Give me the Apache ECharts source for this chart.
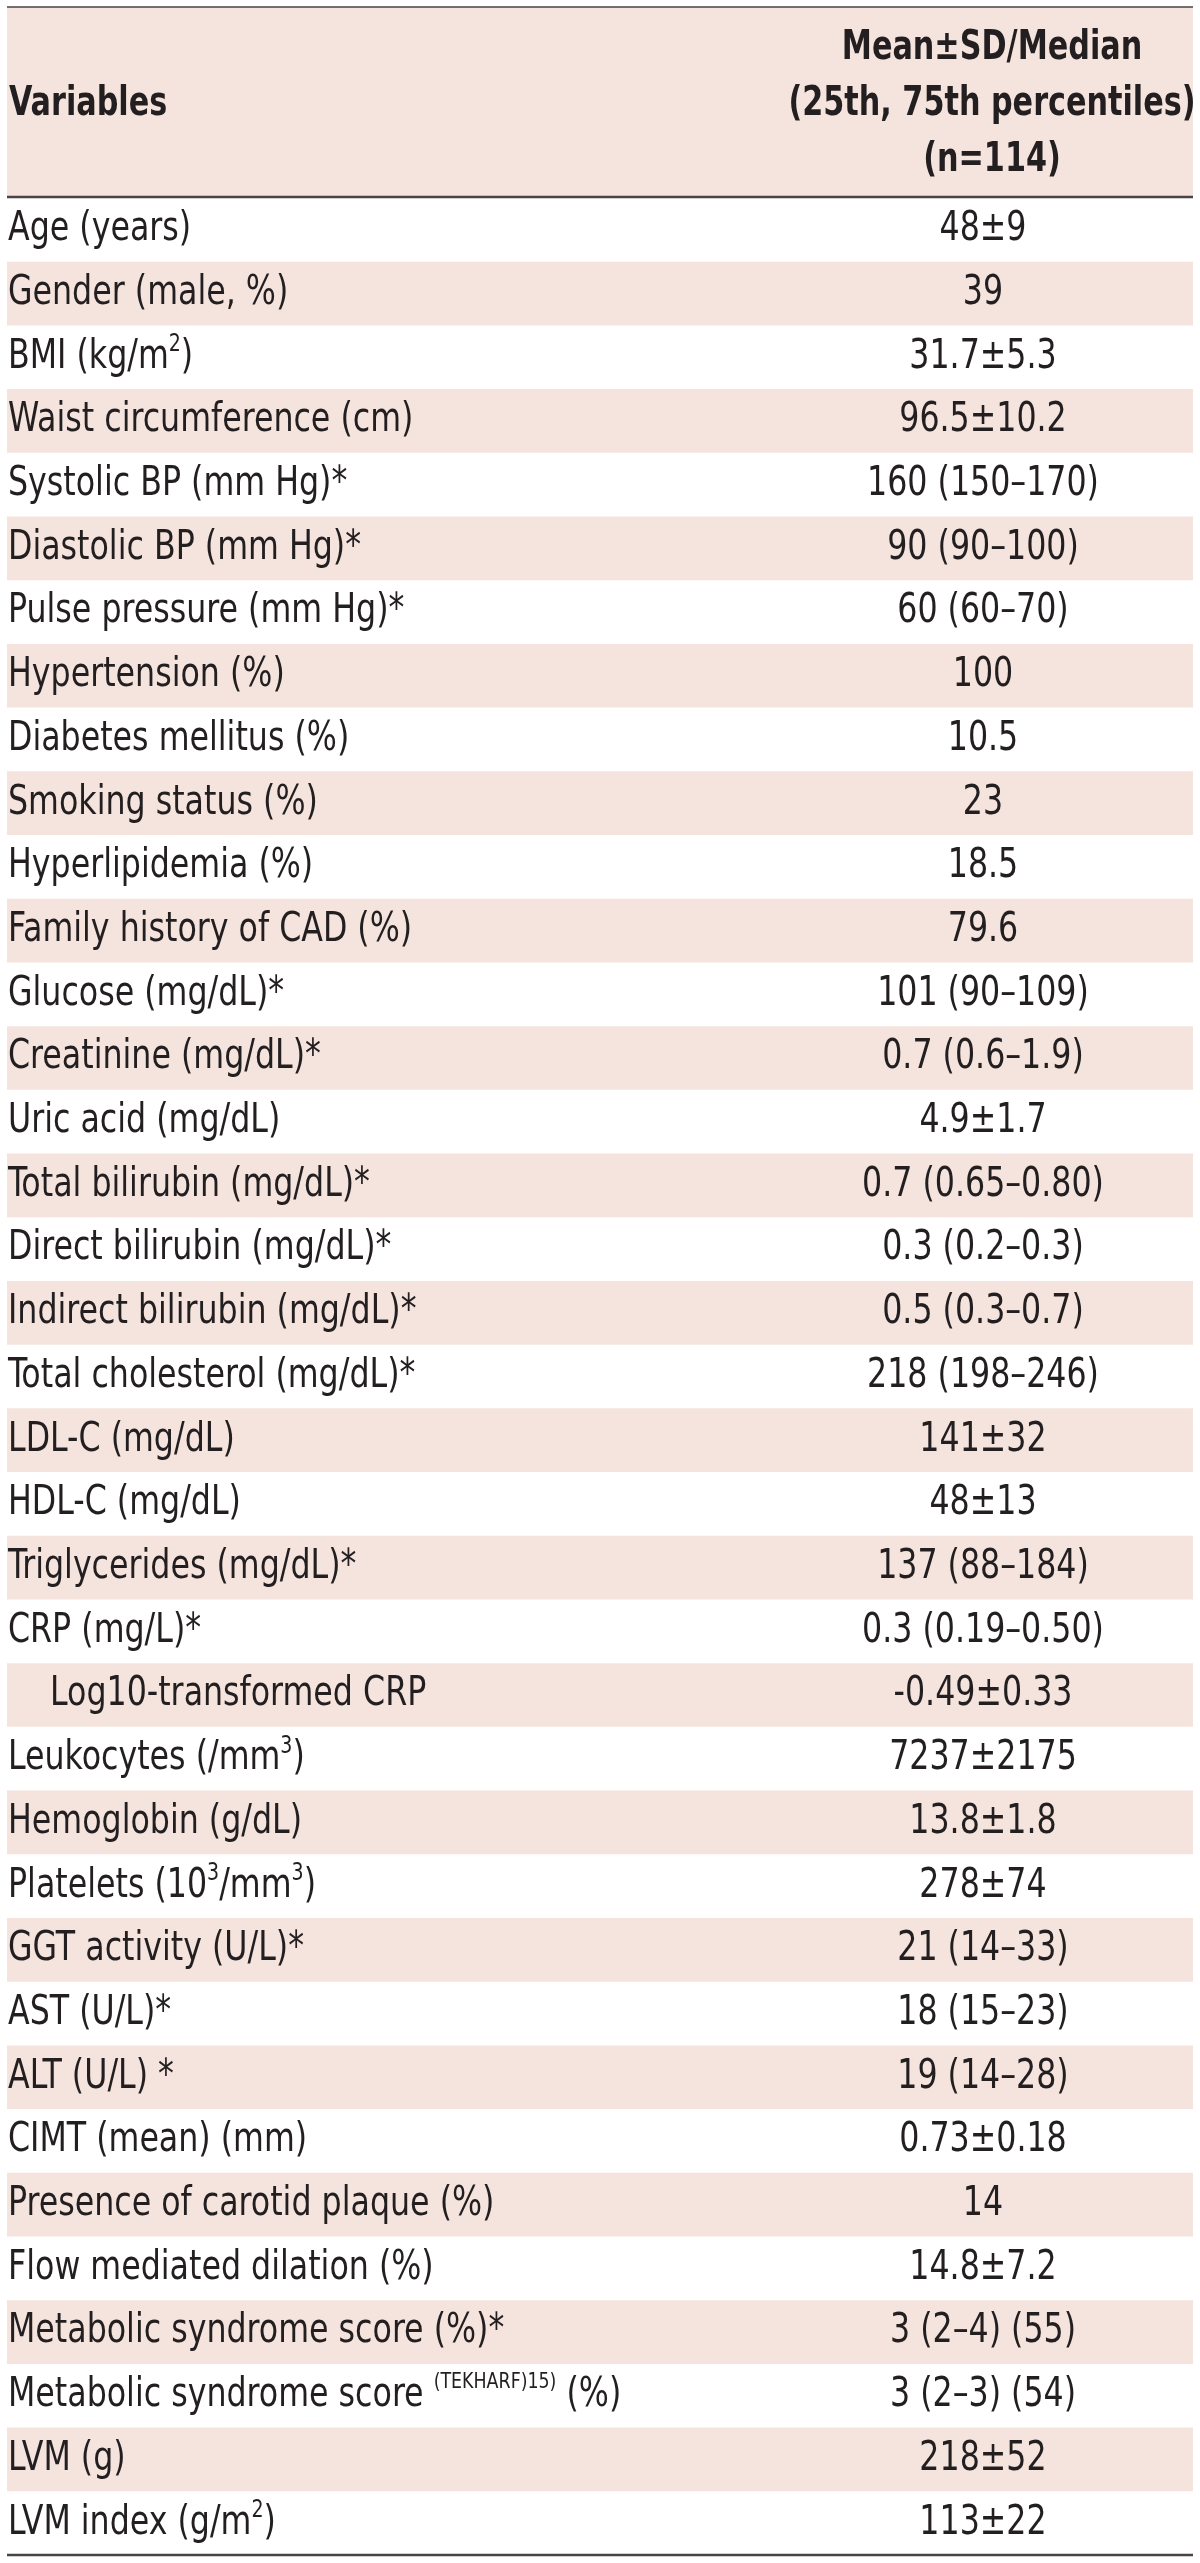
<!DOCTYPE html>
<html>
<head>
<meta charset="utf-8">
<script src="https://cdn.jsdelivr.net/npm/echarts@6.0.0/dist/echarts.min.js"></script>
<style>
  html, body { margin: 0; padding: 0; background: #ffffff; }
  #chart { width: 1200px; height: 2563px; }
</style>
</head>
<body>
<div id="chart"></div>
<script>
// ---------- data ----------
const headerLeft = 'Variables';
const headerRight = ['Mean±SD/Median', '(25th, 75th percentiles)', '(n=114)'];

const variables = [
  'Age (years)',
  'Gender (male, %)',
  'BMI (kg/m{s|2})',
  'Waist circumference (cm)',
  'Systolic BP (mm Hg)*',
  'Diastolic BP (mm Hg)*',
  'Pulse pressure (mm Hg)*',
  'Hypertension (%)',
  'Diabetes mellitus (%)',
  'Smoking status (%)',
  'Hyperlipidemia (%)',
  'Family history of CAD (%)',
  'Glucose (mg/dL)*',
  'Creatinine (mg/dL)*',
  'Uric acid (mg/dL)',
  'Total bilirubin (mg/dL)*',
  'Direct bilirubin (mg/dL)*',
  'Indirect bilirubin (mg/dL)*',
  'Total cholesterol (mg/dL)*',
  'LDL-C (mg/dL)',
  'HDL-C (mg/dL)',
  'Triglycerides (mg/dL)*',
  'CRP (mg/L)*',
  'Log10-transformed CRP',
  'Leukocytes (/mm{s|3})',
  'Hemoglobin (g/dL)',
  'Platelets (10{s|3}/mm{s|3})',
  'GGT activity (U/L)*',
  'AST (U/L)*',
  'ALT (U/L) *',
  'CIMT (mean) (mm)',
  'Presence of carotid plaque (%)',
  'Flow mediated dilation (%)',
  'Metabolic syndrome score (%)*',
  'Metabolic syndrome score {t|(TEKHARF)15)} (%)',
  'LVM (g)',
  'LVM index (g/m{s|2})'
];

const values = [
  '48±9',
  '39',
  '31.7±5.3',
  '96.5±10.2',
  '160 (150–170)',
  '90 (90–100)',
  '60 (60–70)',
  '100',
  '10.5',
  '23',
  '18.5',
  '79.6',
  '101 (90–109)',
  '0.7 (0.6–1.9)',
  '4.9±1.7',
  '0.7 (0.65–0.80)',
  '0.3 (0.2–0.3)',
  '0.5 (0.3–0.7)',
  '218 (198–246)',
  '141±32',
  '48±13',
  '137 (88–184)',
  '0.3 (0.19–0.50)',
  '-0.49±0.33',
  '7237±2175',
  '13.8±1.8',
  '278±74',
  '21 (14–33)',
  '18 (15–23)',
  '19 (14–28)',
  '0.73±0.18',
  '14',
  '14.8±7.2',
  '3 (2–4) (55)',
  '3 (2–3) (54)',
  '218±52',
  '113±22'
];

// rows that are sub-items of the row above (indented)
const subRows = [23];

// ---------- styles ----------
const FONT = "'Liberation Sans Narrow', 'DejaVu Sans Condensed', 'Arial Narrow', sans-serif";
const TEXT = '#231f20';
const SHADE = '#f5e4de';
const RULE = '#4a4245';
const FS = 40;
const LH = 48;
const NAME_SX = 0.88;
const VALUE_SX = 0.88;
const BOLD_SX = 0.82;

const TABLE_L = 7, TABLE_R = 1193;
const HEAD_TOP = 7, HEAD_BOTTOM = 197, BODY_BOTTOM = 2555;
const VALUE_FRAC = (983 - TABLE_L) / (TABLE_R - TABLE_L);
const HEAD_X = 992;

const richStyles = {
  s: { fontFamily: FONT, fontSize: 24, lineHeight: 26, verticalAlign: 'top', fill: TEXT },
  t: { fontFamily: FONT, fontSize: 22, lineHeight: 20, verticalAlign: 'top', fill: TEXT }
};

const chart = echarts.init(document.getElementById('chart'), null, { renderer: 'canvas' });

const rowData = variables.map((v, i) => [VALUE_FRAC, i]);

function headText(txt, x, y, align) {
  return {
    type: 'text', x: x, y: y, scaleX: BOLD_SX, z: 5,
    style: { text: txt, fill: TEXT, fontFamily: FONT, fontSize: 41, fontWeight: 'bold', verticalAlign: 'middle', align: align }
  };
}

const option = {
  backgroundColor: '#ffffff',
  animation: false,
  grid: { left: TABLE_L, right: 1200 - TABLE_R, top: HEAD_BOTTOM + 1, bottom: 2563 - BODY_BOTTOM, containLabel: false },
  xAxis: { type: 'value', min: 0, max: 1, show: false },
  yAxis: {
    type: 'category',
    inverse: true,
    data: variables.map((v, i) => String(i)),
    show: false
  },
  graphic: [
    // header band
    { type: 'rect', shape: { x: TABLE_L, y: HEAD_TOP, width: TABLE_R - TABLE_L, height: HEAD_BOTTOM - HEAD_TOP }, style: { fill: SHADE }, z: 0 },
    headText(headerLeft, TABLE_L + 2, 104, 'left'),
    headText(headerRight[0], HEAD_X, 48, 'center'),
    headText(headerRight[1], HEAD_X, 104, 'center'),
    headText(headerRight[2], HEAD_X, 160, 'center'),
    // rules
    { type: 'line', shape: { x1: TABLE_L, y1: HEAD_TOP, x2: TABLE_R, y2: HEAD_TOP }, style: { stroke: RULE, lineWidth: 1.5 }, z: 10 },
    { type: 'line', shape: { x1: TABLE_L, y1: HEAD_BOTTOM, x2: TABLE_R, y2: HEAD_BOTTOM }, style: { stroke: RULE, lineWidth: 2.5 }, z: 10 },
    { type: 'line', shape: { x1: TABLE_L, y1: BODY_BOTTOM, x2: TABLE_R, y2: BODY_BOTTOM }, style: { stroke: RULE, lineWidth: 2.5 }, z: 10 }
  ],
  series: [{
    type: 'custom',
    coordinateSystem: 'cartesian2d',
    encode: { x: 0, y: 1 },
    data: rowData,
    clip: false,
    renderItem: function (params, api) {
      const idx = api.value(1);
      const c = api.coord([api.value(0), idx]);
      const left = api.coord([0, idx]);
      const right = api.coord([1, idx]);
      const bandH = api.size([0, 1])[1];
      const children = [];
      if (idx % 2 === 1) {
        children.push({
          type: 'rect',
          shape: { x: left[0], y: c[1] - bandH / 2, width: right[0] - left[0], height: bandH },
          style: { fill: SHADE }
        });
      }
      const indent = subRows.indexOf(idx) >= 0 ? 43 : 1;
      children.push({
        type: 'text',
        x: left[0] + indent,
        y: c[1],
        scaleX: NAME_SX,
        style: {
          text: variables[idx],
          fill: TEXT, fontFamily: FONT, fontSize: FS, lineHeight: LH,
          align: 'left', verticalAlign: 'middle',
          rich: richStyles
        }
      });
      children.push({
        type: 'text',
        x: c[0],
        y: c[1],
        scaleX: VALUE_SX,
        style: {
          text: values[idx],
          fill: TEXT, fontFamily: FONT, fontSize: FS, lineHeight: LH,
          align: 'center', verticalAlign: 'middle'
        }
      });
      return { type: 'group', children: children };
    }
  }]
};

chart.setOption(option);
</script>
</body>
</html>
